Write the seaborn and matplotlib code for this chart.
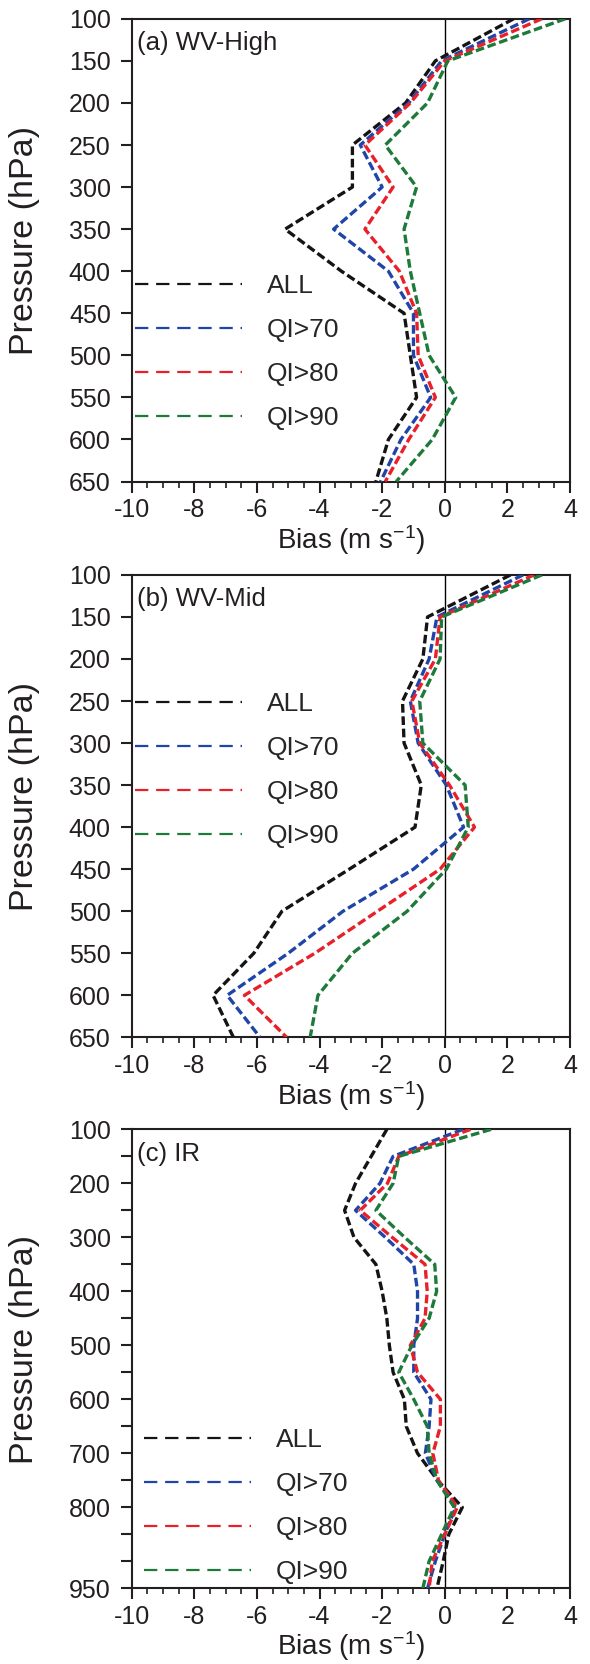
import matplotlib
matplotlib.use('Agg')
import matplotlib.pyplot as plt
from matplotlib.lines import Line2D
from matplotlib.ticker import MultipleLocator
import pandas as pd
import seaborn as sns

# pressure levels (hPa)
levels_wv = [100, 150, 200, 250, 300, 350, 400, 450, 500, 550, 600, 650]
levels_ir = [100, 150, 200, 250, 300, 350, 400, 450, 500, 550, 600, 650,
             700, 750, 800, 850, 900, 950]

groups = ['ALL', 'QI>70', 'QI>80', 'QI>90']
colors = {'ALL': '#141414', 'QI>70': '#1f45a8', 'QI>80': '#e8202a', 'QI>90': '#1d7a3a'}

# (a) WV-High
all_a  = [2.2, -0.3, -1.25, -2.95, -2.95, -5.1, -3.3, -1.3, -1.1, -0.9, -1.8, -2.2]
qi70_a = [2.7, -0.1, -1.15, -2.7, -2.0, -3.55, -1.8, -1.0, -1.0, -0.45, -1.4, -2.05]
qi80_a = [3.1, 0.0, -1.1, -2.55, -1.65, -2.55, -1.45, -0.9, -0.85, -0.3, -1.15, -1.9]
qi90_a = [3.85, 0.1, -0.55, -1.9, -0.9, -1.3, -1.1, -0.8, -0.5, 0.35, -0.4, -1.55]

# (b) WV-Mid
all_b  = [2.1, -0.55, -0.7, -1.35, -1.3, -0.75, -0.95, -3.05, -5.2, -6.1, -7.4, -6.75]
qi70_b = [2.5, -0.25, -0.5, -1.1, -0.85, 0.05, 0.6, -1.0, -3.25, -5.0, -6.95, -5.9]
qi80_b = [2.85, -0.15, -0.3, -1.05, -0.8, 0.15, 0.95, -0.15, -2.15, -4.15, -6.4, -5.05]
qi90_b = [3.1, -0.1, -0.15, -0.8, -0.7, 0.65, 0.75, 0.05, -1.2, -2.95, -4.05, -4.3]

# (c) IR
all_c  = [-1.85, -2.35, -2.85, -3.2, -2.9, -2.2, -2.0, -1.85, -1.77, -1.65, -1.29, -1.23,
          -0.87, -0.23, 0.56, 0.13, -0.05, -0.25]
qi70_c = [0.58, -1.65, -2.07, -2.85, -1.9, -0.99, -0.87, -0.87, -0.99, -0.99, -0.44, -0.5,
          -0.62, -0.25, 0.35, 0.0, -0.3, -0.55]
qi80_c = [0.82, -1.47, -1.83, -2.7, -1.68, -0.63, -0.56, -0.63, -1.1, -0.87, -0.14, -0.14,
          -0.38, -0.2, 0.4, 0.0, -0.4, -0.5]
qi90_c = [1.48, -1.47, -1.65, -2.2, -1.28, -0.32, -0.26, -0.5, -1.05, -1.47, -0.99, -0.56,
          -0.5, -0.25, 0.3, -0.1, -0.5, -0.7]

yticks_wv = levels_wv
ylabels_wv = ['100', '150', '200', '250', '300', '350', '400', '450', '500', '550', '600', '650']
yticks_ir = levels_ir
ylabels_ir = ['100', '', '200', '', '300', '', '400', '', '500', '', '600', '', '700', '',
              '800', '', '', '950']

sns.set_style('ticks')
plt.rcParams['font.family'] = ['Liberation Sans', 'DejaVu Sans']
plt.rcParams['mathtext.default'] = 'regular'
plt.rcParams['axes.edgecolor'] = '#231f20'
plt.rcParams['axes.linewidth'] = 1.5


def draw_panel(ax, levels, series, title, ylim, yticks, ylabels, leg_xy):
    # long-form table for seaborn
    rows = []
    for name, vals in zip(groups, series):
        for p, v in zip(levels, vals):
            rows.append({'pressure': p, 'bias': v, 'group': name})
    df = pd.DataFrame(rows)

    ax.axvline(0, color='black', lw=1.0, zorder=1)
    sns.lineplot(data=df, x='bias', y='pressure', hue='group', hue_order=groups,
                 palette=colors, style='group', style_order=groups,
                 dashes={g: (2.6, 1.1) for g in groups}, orient='y', estimator=None,
                 sort=True, lw=2.4, legend=False, ax=ax, zorder=3)

    ax.set_xlim(-10, 4)
    ax.set_ylim(ylim)
    ax.set_xticks([-10, -8, -6, -4, -2, 0, 2, 4])
    ax.set_xticklabels(['-10', '-8', '-6', '-4', '-2', '0', '2', '4'])
    ax.xaxis.set_minor_locator(MultipleLocator(0.5))
    ax.set_yticks(yticks)
    ax.set_yticklabels(ylabels)
    ax.tick_params(axis='both', which='major', direction='out', length=8, width=1.5,
                   labelsize=18, colors='#231f20')
    ax.tick_params(axis='y', which='major', pad=7)
    ax.tick_params(axis='x', which='major', pad=4)
    ax.tick_params(axis='x', which='minor', direction='out', length=4, width=1.2,
                   colors='#231f20')
    for s in ax.spines.values():
        s.set_visible(True)
        s.set_linewidth(1.5)

    ax.set_ylabel('Pressure (hPa)', fontsize=24.5, color='#231f20')
    ax.yaxis.set_label_coords(-0.209, 0.52)
    ax.set_xlabel('Bias (m s$^{-1}$)', fontsize=20, color='#231f20')
    ax.xaxis.set_label_coords(0.5, -0.09)

    ax.text(0.012, 0.947, title, transform=ax.transAxes, fontsize=18.5,
            va='center', ha='left', color='#231f20')

    handles = [Line2D([], [], color=colors[g], lw=1.6, dashes=(6, 3.5)) for g in groups]
    ax.legend(handles, groups, loc='upper left', bbox_to_anchor=leg_xy, frameon=False,
              fontsize=19, handlelength=4.05, handletextpad=0.95, labelspacing=0.76,
              borderpad=0, borderaxespad=0)


fig = plt.figure(figsize=(5.9, 16.64), dpi=100)
ax_a = fig.add_axes([0.2232, 0.7106, 0.7429, 0.2781])
ax_b = fig.add_axes([0.2232, 0.3766, 0.7429, 0.2779])
ax_c = fig.add_axes([0.2232, 0.0455, 0.7429, 0.2758])

draw_panel(ax_a, levels_wv, [all_a, qi70_a, qi80_a, qi90_a], '(a) WV-High',
           (650, 100), yticks_wv, ylabels_wv, (0.007, 0.448))
draw_panel(ax_b, levels_wv, [all_b, qi70_b, qi80_b, qi90_b], '(b) WV-Mid',
           (650, 100), yticks_wv, ylabels_wv, (0.007, 0.747))
draw_panel(ax_c, levels_ir, [all_c, qi70_c, qi80_c, qi90_c], '(c) IR',
           (950, 100), yticks_ir, ylabels_ir, (0.028, 0.349))

fig.savefig('out.png', dpi=100)
